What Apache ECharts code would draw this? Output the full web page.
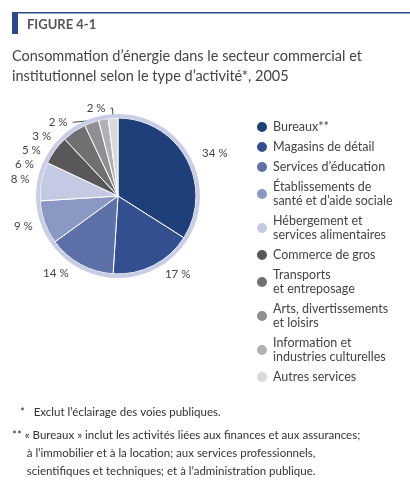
<!DOCTYPE html><html><head><meta charset="utf-8"><script src="https://cdn.jsdelivr.net/npm/echarts@6/dist/echarts.min.js"></script>
<style>body{margin:0;background:#fff}#c{width:410px;height:484px}</style></head><body><div id="c"></div><script>
const categories=['Bureaux**','Magasins de détail','Services d’éducation','Établissements de\nsanté et d’aide sociale','Hébergement et\nservices alimentaires','Commerce de gros','Transports\net entreposage','Arts, divertissements\net loisirs','Information et\nindustries culturelles','Autres services'];
const values=[34,17,14,9,8,6,5,3,2,2];
const colors=['#1f3f7a','#344f8f','#5d70a7','#8a98c3','#c4cae3','#58585a','#707073','#8f8f93','#b1b1b5','#d9d9db'];
const F='Lato, "Open Sans", sans-serif';
const c=echarts.init(document.getElementById('c'));
c.setOption({
 animation:false,color:colors,
 graphic:[
  {type:'rect',shape:{x:12,y:12,width:398,height:1.5},style:{fill:'#2a4a86'}},
  {type:'rect',shape:{x:12,y:12,width:6,height:22},style:{fill:'#2a4a86'}},
  {type:'text',left:27,top:18,style:{text:'FIGURE 4-1',font:'bold 13px '+F,fill:'#555'}},
  {type:'text',left:12,top:46,style:{text:'Consommation d’énergie dans le secteur commercial et\ninstitutionnel selon le type d’activité*, 2005',font:'14.5px '+F,fill:'#444',lineHeight:20}},
  {type:'text',left:20,top:406,style:{text:'*   Exclut l’éclairage des voies publiques.',font:'11.5px '+F,fill:'#333'}},
  {type:'text',left:12,top:426,style:{text:'** « Bureaux » inclut les activités liées aux finances et aux assurances;\n     à l’immobilier et à la location; aux services professionnels,\n     scientifiques et techniques; et à l’administration publique.',font:'11.5px '+F,fill:'#333',lineHeight:18}}
 ],
 legend:{orient:'vertical',left:250,top:115,icon:'circle',itemWidth:12,itemHeight:12,itemGap:6,
  textStyle:{fontFamily:F,fontSize:12.5,color:'#444',lineHeight:14},data:categories},
 series:[{type:'pie',center:[118,196],radius:[0,78],startAngle:90,clockwise:true,
  data:categories.map((n,i)=>({name:n,value:values[i],labelLine:{show:i>=8}})),
  itemStyle:{borderColor:'#fff',borderWidth:1},
  label:{show:true,formatter:'{c} %',fontFamily:F,fontSize:11.5,color:'#444'},
  labelLine:{length:10,length2:2,lineStyle:{color:'#444'}},
  emphasis:{disabled:true}},
  {type:'pie',center:[118,196],radius:[78,82],silent:true,label:{show:false},data:[{value:1,itemStyle:{color:'#c9cee6'}}]}
 ]
});
</script></body></html>
